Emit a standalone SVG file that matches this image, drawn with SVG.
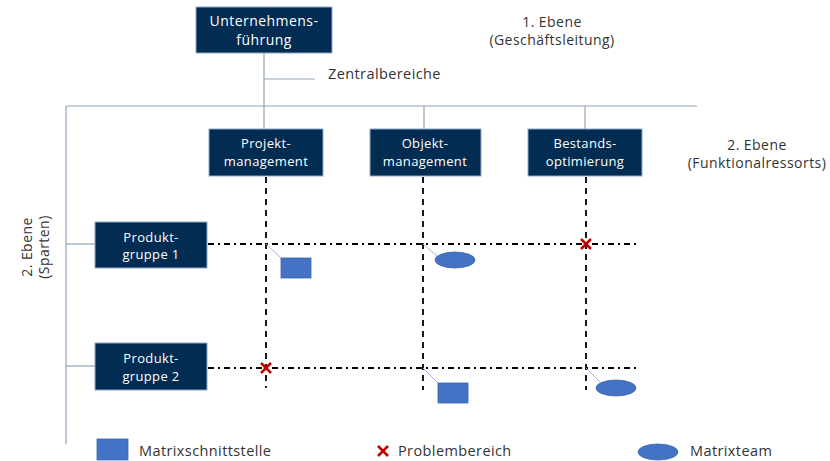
<svg xmlns="http://www.w3.org/2000/svg" width="830" height="461" viewBox="0 0 830 461">
<style>
.box{fill:#022C51;stroke:#8FA9C8;stroke-width:1}
.bt{font-family:"Open Sans","Liberation Sans",sans-serif;font-size:14px;letter-spacing:0.45px;fill:#ffffff;text-anchor:middle}
.bt2{font-family:"Open Sans","Liberation Sans",sans-serif;font-size:13px;letter-spacing:0.35px;fill:#ffffff;text-anchor:middle}
.lbl{font-family:"Open Sans","Liberation Sans",sans-serif;font-size:14.5px;letter-spacing:0.4px;fill:#333333}
.lbl2{font-family:"Open Sans","Liberation Sans",sans-serif;font-size:14px;letter-spacing:0.45px;fill:#333333;text-anchor:middle}
.org{stroke:#8FA6BC;stroke-width:1.2;fill:none}
.dash{stroke:#000;stroke-width:1.8;stroke-dasharray:6,5;fill:none}
.dd{stroke:#000;stroke-width:1.8;stroke-dasharray:6,4,2,4;fill:none}
.lead{stroke:#9DB5DC;stroke-width:1;fill:none}
.sq{fill:#4472C4;stroke:#3A64B0;stroke-width:0.8}
.x{stroke:#C00000;stroke-width:2.5;stroke-linecap:butt}
</style>
<g id="connectors">
<line class="org" x1="264" y1="53" x2="264" y2="129"/>
<line class="org" x1="264" y1="79" x2="315" y2="79"/>
<line class="org" x1="66" y1="106" x2="697" y2="106"/>
<line class="org" x1="424" y1="106" x2="424" y2="129"/>
<line class="org" x1="585" y1="106" x2="585" y2="129"/>
<line class="org" x1="66" y1="106" x2="66" y2="444"/>
<line class="org" x1="66" y1="244" x2="95" y2="244"/>
<line class="org" x1="66" y1="366" x2="95" y2="366"/>
<line class="dash" x1="266" y1="177" x2="266" y2="388"/>
<line class="dash" x1="423" y1="177" x2="423" y2="390"/>
<line class="dash" x1="586" y1="177" x2="586" y2="390"/>
<line class="dd" x1="208" y1="244" x2="640" y2="244"/>
<line class="dd" x1="208" y1="368" x2="640" y2="368"/>
<line class="lead" x1="266" y1="244" x2="281" y2="258"/>
<line class="lead" x1="423" y1="244" x2="437" y2="256"/>
<line class="lead" x1="423" y1="368" x2="438" y2="383"/>
<line class="lead" x1="586" y1="368" x2="600" y2="382"/>
</g>
<g id="unternehmensfuehrung">
<rect class="box" x="196" y="7" width="136" height="46"/>
<text class="bt" x="264" y="26">Unternehmens-</text>
<text class="bt" x="264" y="45">führung</text>
</g>
<g id="zentralbereiche"><text class="lbl" x="328" y="79">Zentralbereiche</text></g>
<g id="ebene1">
<text class="lbl2" x="552" y="27">1. Ebene</text>
<text class="lbl2" x="552" y="45">(Geschäftsleitung)</text>
</g>
<g id="ebene2f">
<text class="lbl2" x="757" y="150">2. Ebene</text>
<text class="lbl2" x="757" y="168">(Funktionalressorts)</text>
</g>
<g id="ebene2s" transform="translate(36,247) rotate(-90)">
<text class="lbl2" x="0" y="-4">2. Ebene</text>
<text class="lbl2" x="0" y="13">(Sparten)</text>
</g>
<g id="projektmanagement">
<rect class="box" x="209" y="129" width="114" height="47"/>
<text class="bt2" x="266" y="148">Projekt-</text>
<text class="bt2" x="266" y="166">management</text>
</g>
<g id="objektmanagement">
<rect class="box" x="370" y="129" width="111" height="47"/>
<text class="bt2" x="425" y="148">Objekt-</text>
<text class="bt2" x="425" y="166">management</text>
</g>
<g id="bestandsoptimierung">
<rect class="box" x="528" y="129" width="114" height="47"/>
<text class="bt2" x="585" y="148">Bestands-</text>
<text class="bt2" x="585" y="166">optimierung</text>
</g>
<g id="produktgruppe1">
<rect class="box" x="95" y="222" width="112" height="46"/>
<text class="bt2" x="151" y="242">Produkt-</text>
<text class="bt2" x="151" y="259">gruppe 1</text>
</g>
<g id="produktgruppe2">
<rect class="box" x="95" y="343" width="112" height="47"/>
<text class="bt2" x="151" y="363">Produkt-</text>
<text class="bt2" x="151" y="381">gruppe 2</text>
</g>
<g id="markers">
<rect class="sq" x="281" y="258" width="30" height="20"/>
<ellipse class="sq" cx="455" cy="260" rx="20" ry="8"/>
<rect class="sq" x="438" y="383" width="30" height="20"/>
<ellipse class="sq" cx="616" cy="388" rx="20" ry="8"/>
<g class="x"><line x1="261" y1="363" x2="271" y2="373"/><line x1="271" y1="363" x2="261" y2="373"/></g>
<g class="x"><line x1="581" y1="239" x2="591" y2="249"/><line x1="591" y1="239" x2="581" y2="249"/></g>
</g>
<g id="legend">
<rect class="sq" x="97" y="439" width="31" height="21"/>
<text class="lbl" x="139" y="456">Matrixschnittstelle</text>
<g class="x"><line x1="378" y1="446" x2="388" y2="456"/><line x1="388" y1="446" x2="378" y2="456"/></g>
<text class="lbl" x="398" y="456">Problembereich</text>
<ellipse class="sq" cx="658" cy="452" rx="20" ry="8"/>
<text class="lbl" x="690" y="456">Matrixteam</text>
</g>
</svg>
